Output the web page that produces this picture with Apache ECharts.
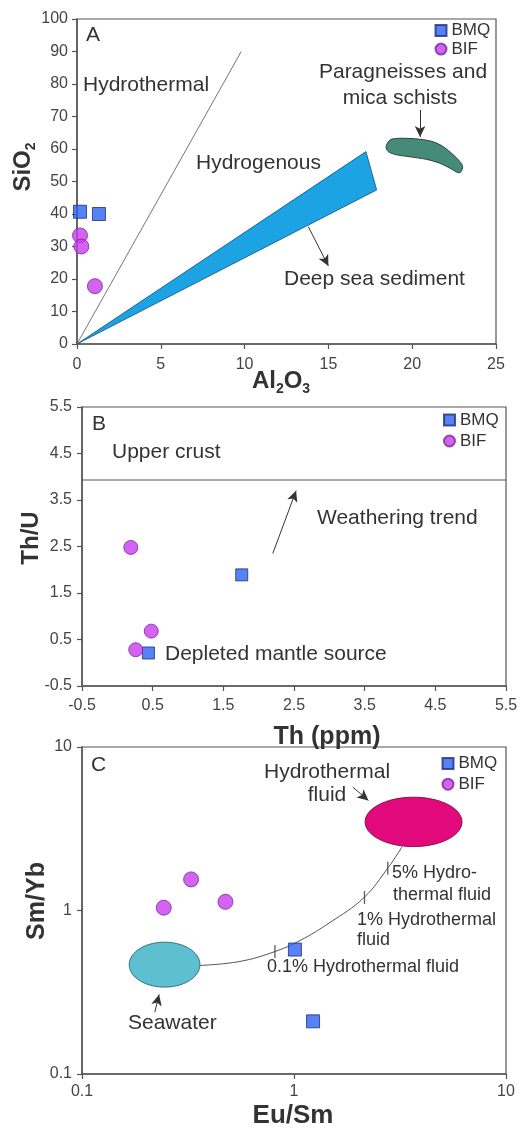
<!DOCTYPE html>
<html><head><meta charset="utf-8">
<script src="https://cdn.jsdelivr.net/npm/echarts@6/dist/echarts.min.js"></script>
<style>html,body{margin:0;padding:0;background:#fff}#c{width:521px;height:1136px}</style>
</head><body><div id="c"></div>
<script>
// ---------- Panel A data (Al2O3 vs SiO2) ----------
const bmqA = [[0.18, 40.7], [1.31, 40.0]];
const bifA = [[0.18, 33.4], [0.26, 30.0], [1.07, 17.8]];
const hydroLineA = [[0, 0], [9.8, 90]];
const wedgeA = [[0, 0], [17.24, 59.2], [17.88, 47.4]];
const blobA = [[18.44, 60.7], [18.68, 62.8], [19.27, 63.3], [20.47, 63.0], [21.26, 62.2], [21.86, 60.7],
  [22.45, 58.2], [22.85, 56.1], [23.01, 54.6], [22.91, 53.0], [22.75, 52.7], [22.26, 54.1], [21.66, 55.6],
  [20.87, 56.8], [19.87, 57.6], [19.08, 58.2], [18.57, 59.2]];
const arrowsA = [[[20.47, 72], [20.47, 63.7]], [[13.8, 36.1], [15.0, 24.0]]];

// ---------- Panel B data (Th vs Th/U) ----------
const bmqB = [[1.76, 1.89], [0.44, 0.21]];
const bifB = [[0.19, 2.48], [0.48, 0.68], [0.26, 0.28]];
const upperCrustB = [[-0.5, 3.93], [5.5, 3.93]];
const arrowsB = [[[2.20, 2.35], [2.53, 3.70]]];
const ticksB = [-0.5, 0.5, 1.5, 2.5, 3.5, 4.5, 5.5];

// ---------- Panel C data (Eu/Sm vs Sm/Yb) ----------
const bmqC = [[1.01, 0.577], [1.23, 0.21]];
const bifC = [[0.243, 1.04], [0.327, 1.55], [0.475, 1.13]];
const seawaterC = [0.167, 0.34, 0.36, 0.64];      // xmin, ymin, xmax, ymax
const hydroFluidC = [2.165, 2.46, 6.2, 4.93];     // xmin, ymin, xmax, ymax
const mixCurveC = [[0.36, 0.461], [0.556, 0.488], [0.813, 0.561], [1.067, 0.655], [1.479, 0.845],
  [2.14, 1.20], [2.78, 1.83], [3.24, 2.46]];
const mixTicksC = [[0.813, 0.561], [2.15, 1.20], [2.77, 1.81]];
const arrowsC = [[[1.894, 5.68], [2.244, 4.71]], [[0.2205, 0.2388], [0.231, 0.3063]]];

const FF = "'Liberation Sans', Arial, Helvetica, sans-serif";
const AX = '#555';
const BMQ_STYLE = {color: '#2d62f2', borderColor: '#1c2f80', borderWidth: 1};
const BIF_STYLE = {color: '#c93cf0', borderColor: '#7b2996', borderWidth: 1};

function axisCommon(margin) {
  return {
    axisLine: {show: true, onZero: false, lineStyle: {color: AX, width: 1.5}},
    axisTick: {show: true, inside: false, length: 5, lineStyle: {color: AX, width: 1.2}},
    axisLabel: {color: '#444', fontSize: 16, fontFamily: FF, margin: margin},
    splitLine: {show: false}
  };
}
function arrowMark(list) {
  return {
    silent: true, animation: false, symbol: ['none', 'arrow'], symbolSize: [8, 11],
    label: {show: false}, lineStyle: {color: '#333', width: 1, type: 'solid'},
    data: list.map(a => [{coord: a[0]}, {coord: a[1]}])
  };
}
function polyItem(points, style) {
  return function (params, api) {
    if (params.dataIndex !== 0) return null;
    return {type: 'polygon', shape: {points: points.map(p => api.coord(p)), smooth: style.smooth || 0},
      style: {fill: style.fill, stroke: style.stroke, lineWidth: style.lw}};
  };
}
function ellipseItem(fill, stroke) {
  return function (params, api) {
    const a = api.coord([api.value(0), api.value(1)]);
    const b = api.coord([api.value(2), api.value(3)]);
    const cx = (a[0] + b[0]) / 2, cy = (a[1] + b[1]) / 2;
    const rx = Math.abs(b[0] - a[0]) / 2, ry = Math.abs(b[1] - a[1]) / 2;
    const pts = [];
    for (let i = 0; i < 72; i++) {
      const t = i / 72 * Math.PI * 2;
      pts.push([cx + rx * Math.cos(t), cy + ry * Math.sin(t)]);
    }
    return {type: 'polygon', shape: {points: pts}, style: {fill: fill, stroke: stroke, lineWidth: 1}};
  };
}
function txt(x, y, text, size, align) {
  return {type: 'text', x: x, y: y, z: 100, silent: true,
    style: {text: text, fontSize: size, fontFamily: FF, fill: '#333', align: align || 'left', verticalAlign: 'middle'}};
}
function title(x, y, text, rot, size) {
  return {type: 'text', x: x, y: y, rotation: rot ? Math.PI / 2 : 0, z: 100, silent: true,
    style: {text: text, fill: '#333', align: 'center', verticalAlign: 'middle',
      rich: {
        a: {fontSize: size, fontWeight: 'bold', fontFamily: FF, fill: '#333', lineHeight: size + 6},
        b: {fontSize: Math.round(size * 0.6), fontWeight: 'bold', fontFamily: FF, fill: '#333', verticalAlign: 'bottom', lineHeight: Math.round(size * 0.7)}
      }}};
}
function legend(left, top, gap) {
  return {orient: 'vertical', left: left, top: top, padding: 0, itemGap: gap, itemWidth: 11, itemHeight: 11,
    selectedMode: false, textStyle: {fontSize: 17, fontFamily: FF, color: '#333', padding: [0, 0, 0, 0]},
    data: [{name: 'BMQ', icon: 'rect'}, {name: 'BIF', icon: 'circle'}]};
}

const axB = axisCommon(12);
axB.axisLabel.customValues = ticksB;
axB.axisTick.customValues = ticksB;
const ayB = axisCommon(10);
ayB.axisLabel.customValues = ticksB;
ayB.axisTick.customValues = ticksB;

const option = {
  animation: false,
  backgroundColor: '#fff',
  grid: [
    {left: 77, top: 19, width: 419, height: 325, show: true, borderColor: AX, borderWidth: 1.2},
    {left: 82, top: 407, width: 424, height: 279, show: true, borderColor: AX, borderWidth: 1.2},
    {left: 82, top: 747, width: 424, height: 327, show: true, borderColor: AX, borderWidth: 1.2}
  ],
  xAxis: [
    Object.assign({gridIndex: 0, type: 'value', min: 0, max: 25, interval: 5}, axisCommon(13)),
    Object.assign({gridIndex: 1, type: 'value', min: ticksB[0], max: ticksB[ticksB.length - 1], interval: 1}, axB),
    Object.assign({gridIndex: 2, type: 'log', logBase: 10, min: 0.1, max: 10}, axisCommon(10))
  ],
  yAxis: [
    Object.assign({gridIndex: 0, type: 'value', min: 0, max: 100, interval: 10}, axisCommon(9)),
    Object.assign({gridIndex: 1, type: 'value', min: ticksB[0], max: ticksB[ticksB.length - 1], interval: 1}, ayB),
    Object.assign({gridIndex: 2, type: 'log', logBase: 10, min: 0.1, max: 10}, axisCommon(10))
  ],
  legend: [legend(434.5, 22, 1.6), legend(443, 411.5, 4), legend(441.5, 755, 3.7)],
  series: [
    // Panel A
    {type: 'custom', xAxisIndex: 0, yAxisIndex: 0, silent: true, data: wedgeA,
      renderItem: polyItem(wedgeA, {fill: '#1ca3e4', stroke: '#12517c', lw: 0.8}), z: 1},
    {type: 'custom', xAxisIndex: 0, yAxisIndex: 0, silent: true, data: blobA,
      renderItem: polyItem(blobA, {fill: '#468a79', stroke: '#24463d', lw: 1, smooth: 0.3}), z: 1},
    {type: 'line', xAxisIndex: 0, yAxisIndex: 0, data: hydroLineA, symbol: 'none', silent: true,
      lineStyle: {color: '#666', width: 0.9}, markLine: arrowMark(arrowsA), z: 2},
    {name: 'BMQ', type: 'scatter', xAxisIndex: 0, yAxisIndex: 0, data: bmqA, symbol: 'rect', symbolSize: 13, itemStyle: BMQ_STYLE, z: 5},
    {name: 'BIF', type: 'scatter', xAxisIndex: 0, yAxisIndex: 0, data: bifA, symbol: 'circle', symbolSize: 15, itemStyle: BIF_STYLE, z: 5},
    // Panel B
    {type: 'line', xAxisIndex: 1, yAxisIndex: 1, data: upperCrustB, symbol: 'none', silent: true,
      lineStyle: {color: '#555', width: 1}, markLine: arrowMark(arrowsB), z: 2},
    {name: 'BMQ', type: 'scatter', xAxisIndex: 1, yAxisIndex: 1, data: bmqB, symbol: 'rect', symbolSize: 12, itemStyle: BMQ_STYLE, z: 5},
    {name: 'BIF', type: 'scatter', xAxisIndex: 1, yAxisIndex: 1, data: bifB, symbol: 'circle', symbolSize: 14, itemStyle: BIF_STYLE, z: 5},
    // Panel C
    {type: 'line', xAxisIndex: 2, yAxisIndex: 2, data: mixCurveC, symbol: 'none', smooth: 0.4, silent: true,
      lineStyle: {color: '#555', width: 1}, markLine: arrowMark(arrowsC), z: 2},
    {type: 'custom', xAxisIndex: 2, yAxisIndex: 2, silent: true, data: [seawaterC], encode: {x: [0, 2], y: [1, 3]},
      renderItem: ellipseItem('#5cc0d1', '#2f6f7c'), z: 3},
    {type: 'custom', xAxisIndex: 2, yAxisIndex: 2, silent: true, data: [hydroFluidC], encode: {x: [0, 2], y: [1, 3]},
      renderItem: ellipseItem('#e2097d', '#8a1050'), z: 3},
    {type: 'scatter', xAxisIndex: 2, yAxisIndex: 2, data: mixTicksC, symbol: 'rect', symbolSize: [1.3, 13], silent: true,
      itemStyle: {color: '#333'}, z: 4},
    {name: 'BMQ', type: 'scatter', xAxisIndex: 2, yAxisIndex: 2, data: bmqC, symbol: 'rect', symbolSize: 13, itemStyle: BMQ_STYLE, z: 5},
    {name: 'BIF', type: 'scatter', xAxisIndex: 2, yAxisIndex: 2, data: bifC, symbol: 'circle', symbolSize: 15, itemStyle: BIF_STYLE, z: 5}
  ],
  graphic: [
    // Panel A
    txt(86, 35, 'A', 21), txt(83, 85, 'Hydrothermal', 21), txt(196, 163, 'Hydrogenous', 21),
    txt(403, 72, 'Paragneisses and', 21, 'center'), txt(400, 98, 'mica schists', 21, 'center'),
    txt(284, 279, 'Deep sea sediment', 21),
    title(23, 167, '{a|SiO}{b|2}', true, 24), title(281, 381, '{a|Al}{b|2}{a|O}{b|3}', false, 24),
    // Panel B
    txt(92, 424, 'B', 21), txt(112, 452, 'Upper crust', 21), txt(317, 518, 'Weathering trend', 21),
    txt(165, 654, 'Depleted mantle source', 21),
    title(31, 538, '{a|Th/U}', true, 24), title(327, 737, '{a|Th (ppm)}', false, 25),
    // Panel C
    txt(91, 765, 'C', 21), txt(264, 772, 'Hydrothermal', 21), txt(327, 795, 'fluid', 21, 'center'),
    txt(392, 873, '5% Hydro-', 18), txt(393, 895, 'thermal fluid', 18),
    txt(357, 920, '1% Hydrothermal', 18), txt(357, 940, 'fluid', 18),
    txt(267, 967, '0.1% Hydrothermal fluid', 18), txt(128, 1023, 'Seawater', 21),
    title(37, 901, '{a|Sm/Yb}', true, 25), title(293, 1116, '{a|Eu/Sm}', false, 26)
  ]
};
const chart = echarts.init(document.getElementById('c'), null, {renderer: 'canvas'});
chart.setOption(option);
</script></body></html>
